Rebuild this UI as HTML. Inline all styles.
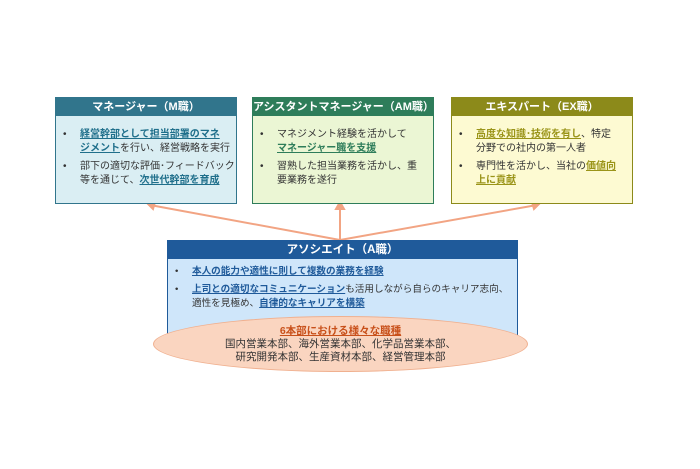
<!DOCTYPE html>
<html><head><meta charset="utf-8"><style>
body{margin:0;width:700px;height:469px;background:#fff;position:relative;font-family:"Liberation Sans","Noto Sans CJK JP",sans-serif;overflow:hidden}
.box{position:absolute;box-sizing:border-box;border:1px solid}
.hd{height:18px;line-height:18px;color:#fff;text-align:center;font-size:11px;font-weight:bold}
ul{margin:0;padding:0;list-style:none}
li{position:relative;padding-left:24px;font-size:10px;line-height:14px;color:#333;margin-bottom:4px;white-space:nowrap}
li:before{content:"•";position:absolute;left:7px}
u{font-weight:bold;text-underline-offset:1px}
</style></head><body>
<svg style="position:absolute;left:0;top:0" width="700" height="469">
<g stroke="#f2a483" stroke-width="2" fill="#f2a483">
<line x1="340" y1="240" x2="150" y2="205"/><line x1="340" y1="240" x2="340" y2="207"/><line x1="340" y1="240" x2="537" y2="205"/>
<polygon points="147,203 155,202 153,209"/><polygon points="340,202 336,209 344,209"/><polygon points="540,203 532,202 534,209"/>
</g></svg>
<div class="box" style="left:55px;top:97px;width:182px;height:107px;border-color:#31758c;background:#daeef3">
<div class="hd" style="background:#31758c">マネージャー（M職）</div>
<ul style="margin-top:12px">
<li><u style="color:#1f6f8b">経営幹部として担当部署のマネ<br>ジメント</u>を行い、経営戦略を実行</li>
<li>部下の適切な評価･フィードバック<br>等を通じて、<u style="color:#1f6f8b">次世代幹部を育成</u></li></ul></div>
<div class="box" style="left:252px;top:97px;width:182px;height:107px;border-color:#2e7d5a;background:#ebf6d4">
<div class="hd" style="background:#2e7d5a">アシスタントマネージャー（AM職）</div>
<ul style="margin-top:12px">
<li>マネジメント経験を活かして<br><u style="color:#2e7d5a">マネージャー職を支援</u></li>
<li>習熟した担当業務を活かし、重<br>要業務を遂行</li></ul></div>
<div class="box" style="left:451px;top:97px;width:182px;height:107px;border-color:#8c8a1a;background:#fdfad2">
<div class="hd" style="background:#8c8a1a">エキスパート（EX職）</div>
<ul style="margin-top:12px">
<li><u style="color:#9a9418">高度な知識･技術を有し</u>、特定<br>分野での社内の第一人者</li>
<li>専門性を活かし、当社の<u style="color:#9a9418">価値向<br>上に貢献</u></li></ul></div>
<div class="box" style="left:167px;top:240px;width:351px;height:98px;border-color:#1f5a9a;background:#cfe6fa">
<div class="hd" style="background:#1f5a9a;font-size:11.5px">アソシエイト（A職）</div>
<ul style="margin-top:6px">
<li style="font-size:9.6px"><u style="color:#1f5a9a">本人の能力や適性に則して複数の業務を経験</u></li>
<li style="font-size:9.6px"><u style="color:#1f5a9a">上司との適切なコミュニケーション</u>も活用しながら自らのキャリア志向、<br>適性を見極め、<u style="color:#1f5a9a">自律的なキャリアを構築</u></li></ul></div>
<div style="position:absolute;left:153px;top:316px;width:375px;height:56px;border-radius:50%;background:#fad5c0;border:1px solid #f0b08f;box-sizing:border-box;text-align:center;font-size:10.5px;line-height:13px;color:#333;padding-top:8px">
<u style="color:#c8501a">6本部における様々な職種</u><br>国内営業本部、海外営業本部、化学品営業本部、<br>研究開発本部、生産資材本部、経営管理本部</div>
</body></html>
